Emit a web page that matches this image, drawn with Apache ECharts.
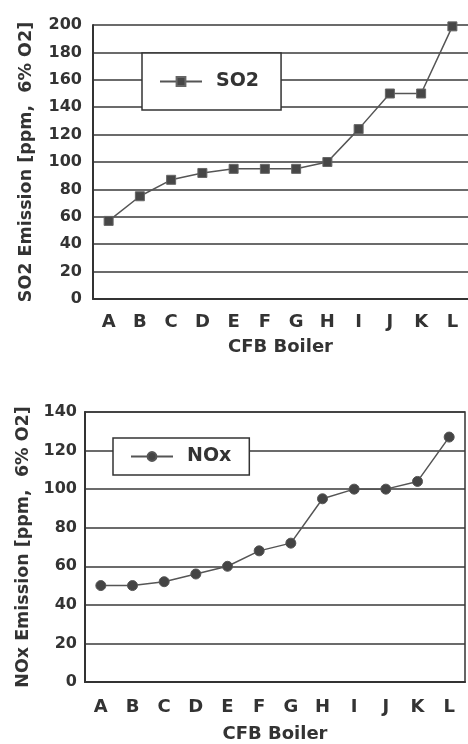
<!DOCTYPE html>
<html>
<head>
<meta charset="utf-8">
<script src="https://cdn.jsdelivr.net/npm/echarts@6/dist/echarts.min.js"></script>
<style>
  html, body { margin: 0; padding: 0; background: #fff; }
  #chart { width: 468px; height: 744px; }
</style>
</head>
<body>
<div id="chart"></div>
<script>
// CFB boiler emissions, corrected to 6% O2
const boilers = ['A', 'B', 'C', 'D', 'E', 'F', 'G', 'H', 'I', 'J', 'K', 'L'];
const so2Values = [57, 75, 87, 92, 95, 95, 95, 100, 124, 150, 150, 199];
const noxValues = [50, 50, 52, 56, 60, 68, 72, 95, 100, 100, 104, 127];
const so2Ticks = { min: 0, max: 200, interval: 20 };
const noxTicks = { min: 0, max: 140, interval: 20 };

const FONT = 'DejaVu Sans';
const INK = '#333';
const textBase = { fontFamily: FONT, fontWeight: 'bold', color: INK };

function xAxisFor(gridIndex, labelMargin, nameGap) {
  return {
    type: 'category',
    gridIndex: gridIndex,
    data: boilers,
    boundaryGap: true,
    axisTick: { show: false },
    axisLine: { show: true, lineStyle: { color: INK, width: 2 } },
    axisLabel: Object.assign({ fontSize: 18, margin: labelMargin, interval: 0 }, textBase),
    name: 'CFB Boiler',
    nameLocation: 'middle',
    nameGap: nameGap,
    nameTextStyle: Object.assign({ fontSize: 18 }, textBase),
    splitLine: { show: false }
  };
}

function yAxisFor(gridIndex, ticks, title, labelMargin, nameGap) {
  return {
    type: 'value',
    gridIndex: gridIndex,
    min: ticks.min,
    max: ticks.max,
    interval: ticks.interval,
    axisTick: { show: false },
    axisLine: { show: true, lineStyle: { color: INK, width: 2 } },
    axisLabel: Object.assign({ fontSize: 16, margin: labelMargin }, textBase),
    splitLine: { show: true, lineStyle: { color: '#3a3a3a', width: 1.5 } },
    name: title,
    nameLocation: 'middle',
    nameGap: nameGap,
    nameTextStyle: Object.assign({ fontSize: 17.5 }, textBase)
  };
}

function legendFor(name, left, top, padding) {
  return {
    data: [name],
    left: left,
    top: top,
    orient: 'horizontal',
    padding: padding,
    itemWidth: 42,
    itemHeight: 11,
    backgroundColor: '#fff',
    borderColor: INK,
    borderWidth: 1.5,
    borderRadius: 0,
    textStyle: Object.assign({ fontSize: 19, padding: [0, 0, 0, 9] }, textBase)
  };
}

const chart = echarts.init(document.getElementById('chart'), null, { renderer: 'canvas' });

chart.setOption({
  backgroundColor: '#fff',
  animation: false,
  grid: [
    { left: 93, top: 25, width: 380, height: 274, show: false },
    { left: 85, top: 412, width: 380, height: 271, show: true,
      borderColor: INK, borderWidth: 1.5, backgroundColor: 'transparent' }
  ],
  xAxis: [
    xAxisFor(0, 14, 39),
    xAxisFor(1, 16, 43)
  ],
  yAxis: [
    yAxisFor(0, so2Ticks, 'SO2 Emission [ppm,  6% O2]', 11, 58),
    yAxisFor(1, noxTicks, 'NOx Emission [ppm,  6% O2]', 8, 52)
  ],
  legend: [
    legendFor('SO2', 142, 53, [19, 22, 19, 17]),
    legendFor('NOx', 113, 438, [9, 18, 9, 17])
  ],
  series: [
    {
      name: 'SO2',
      type: 'line',
      xAxisIndex: 0,
      yAxisIndex: 0,
      data: so2Values,
      symbol: 'rect',
      symbolSize: 9,
      showAllSymbol: true,
      lineStyle: { color: '#555', width: 1.5 },
      itemStyle: { color: '#474747', borderColor: '#666', borderWidth: 1 },
      z: 3
    },
    {
      name: 'NOx',
      type: 'line',
      xAxisIndex: 1,
      yAxisIndex: 1,
      data: noxValues,
      symbol: 'circle',
      symbolSize: 10,
      showAllSymbol: true,
      lineStyle: { color: '#555', width: 1.5 },
      itemStyle: { color: '#444', borderColor: '#555', borderWidth: 1 },
      z: 3
    }
  ]
});
</script>
</body>
</html>
